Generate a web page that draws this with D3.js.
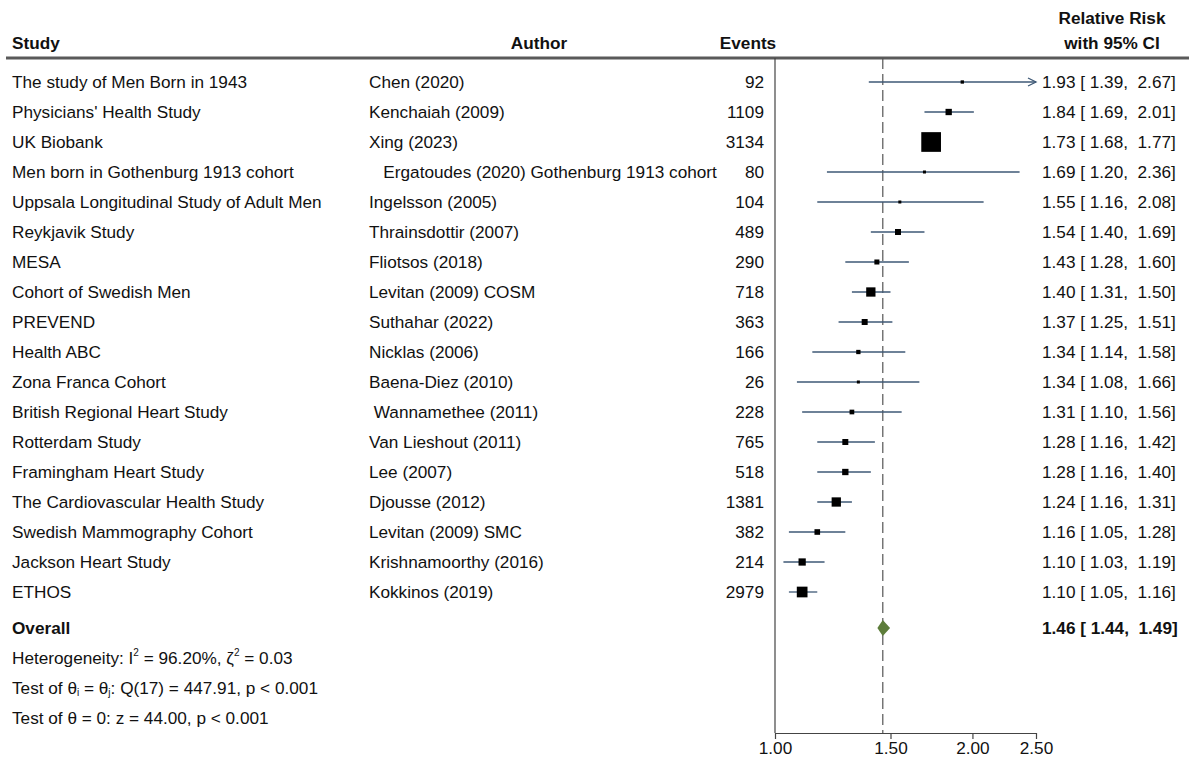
<!DOCTYPE html>
<html>
<head>
<meta charset="utf-8">
<script src="https://cdn.jsdelivr.net/npm/d3@7"></script>
<style>
  html, body { margin: 0; padding: 0; background: #fff; }
  svg { display: block; }
  text { font-family: "Liberation Sans", Arial, Helvetica, sans-serif; fill: #111; white-space: pre; }
</style>
</head>
<body>
<svg id="chart" width="1189" height="762"></svg>
<script>
// ---------------- DATA ----------------
const studies = [
  "The study of Men Born in 1943",
  "Physicians' Health Study",
  "UK Biobank",
  "Men born in Gothenburg 1913 cohort",
  "Uppsala Longitudinal Study of Adult Men",
  "Reykjavik Study",
  "MESA",
  "Cohort of Swedish Men",
  "PREVEND",
  "Health ABC",
  "Zona Franca Cohort",
  "British Regional Heart Study",
  "Rotterdam Study",
  "Framingham Heart Study",
  "The Cardiovascular Health Study",
  "Swedish Mammography Cohort",
  "Jackson Heart Study",
  "ETHOS"
];
const authors = [
  "Chen (2020)",
  "Kenchaiah (2009)",
  "Xing (2023)",
  "   Ergatoudes (2020) Gothenburg 1913 cohort",
  "Ingelsson (2005)",
  "Thrainsdottir (2007)",
  "Fliotsos (2018)",
  "Levitan (2009) COSM",
  "Suthahar (2022)",
  "Nicklas (2006)",
  "Baena-Diez (2010)",
  " Wannamethee (2011)",
  "Van Lieshout (2011)",
  "Lee (2007)",
  "Djousse (2012)",
  "Levitan (2009) SMC",
  "Krishnamoorthy (2016)",
  "Kokkinos (2019)"
];
const events = [92, 1109, 3134, 80, 104, 489, 290, 718, 363, 166, 26, 228, 765, 518, 1381, 382, 214, 2979];
const rr    = [1.93, 1.84, 1.73, 1.69, 1.55, 1.54, 1.43, 1.40, 1.37, 1.34, 1.34, 1.31, 1.28, 1.28, 1.24, 1.16, 1.10, 1.10];
const lower = [1.39, 1.69, 1.68, 1.20, 1.16, 1.40, 1.28, 1.31, 1.25, 1.14, 1.08, 1.10, 1.16, 1.16, 1.16, 1.05, 1.03, 1.05];
const upper = [2.67, 2.01, 1.77, 2.36, 2.08, 1.69, 1.60, 1.50, 1.51, 1.58, 1.66, 1.56, 1.42, 1.40, 1.31, 1.28, 1.19, 1.16];
const weights = [1.05, 3.8, 36.9, 0.86, 0.86, 3.4, 2.4, 8.2, 3.4, 1.76, 0.86, 2.1, 3.4, 3.8, 8.2, 3.0, 5.0, 10.9];
const overall = { label: "Overall", rr: 1.46, lower: 1.44, upper: 1.49 };
const xTicks = [1.00, 1.50, 2.00, 2.50];
const headers = { study: "Study", author: "Author", events: "Events", rr1: "Relative Risk", rr2: "with 95% CI" };

// ---------------- LAYOUT ----------------
const svg = d3.select("#chart");
const FS = 17.2;
const colStudy = 12, colAuthor = 369, colEvents = 764, colCI = 1042;
const plotL = 775, plotR = 1036;
const headerLineY = 58, axisY = 733;

const x = d3.scaleLog().domain([1, 2.5]).range([plotL, plotR]);
const y = d3.scalePoint().domain(d3.range(studies.length)).range([82, 592]);
const overallY = 628;
const statY = [658, 688, 718];
const boxSize = d3.scaleSqrt().domain([0, d3.max(weights)]).range([0, 19.7]);
const fmt = d3.format(".2f");

// header
const hdr = svg.append("g").style("font-size", FS + "px");
function hText(xx, yy, anchor, t) {
  hdr.append("text").attr("x", xx).attr("y", yy).attr("text-anchor", anchor)
    .attr("dominant-baseline", "central").style("font-weight", "bold").text(t);
}
hText(colStudy, 43, "start", headers.study);
hText(539, 43, "middle", headers.author);
hText(748, 43, "middle", headers.events);
hText(1112, 18, "middle", headers.rr1);
hText(1112, 43, "middle", headers.rr2);

svg.append("line").attr("x1", 6).attr("x2", 1189).attr("y1", headerLineY).attr("y2", headerLineY)
  .attr("stroke", "#5a5a5a").attr("stroke-width", 3);

// vertical axis line (null line at 1)
svg.append("line").attr("x1", x(1)).attr("x2", x(1)).attr("y1", headerLineY).attr("y2", axisY)
  .attr("stroke", "#444").attr("stroke-width", 1.2);
// overall dashed line
svg.append("line").attr("x1", x(overall.rr)).attr("x2", x(overall.rr)).attr("y1", headerLineY).attr("y2", axisY)
  .attr("stroke", "#555").attr("stroke-width", 1.2).attr("stroke-dasharray", "11,5");

// rows text
const rows = svg.append("g").style("font-size", FS + "px");
studies.forEach((s, i) => {
  const yy = y(i);
  rows.append("text").attr("x", colStudy).attr("y", yy).attr("dominant-baseline", "central").text(s);
  rows.append("text").attr("x", colAuthor).attr("y", yy).attr("dominant-baseline", "central").text(authors[i]);
  rows.append("text").attr("x", colEvents).attr("y", yy).attr("text-anchor", "end").attr("dominant-baseline", "central").text(events[i]);
  rows.append("text").attr("x", colCI).attr("y", yy).attr("dominant-baseline", "central")
    .text(`${fmt(rr[i])} [ ${fmt(lower[i])},  ${fmt(upper[i])}]`);
});

// CI lines and boxes
const marks = svg.append("g");
studies.forEach((s, i) => {
  const yy = y(i);
  const lo = Math.max(lower[i], 1), hi = Math.min(upper[i], 2.5);
  marks.append("line").attr("x1", x(lo)).attr("x2", x(hi)).attr("y1", yy).attr("y2", yy)
    .attr("stroke", "#3e5876").attr("stroke-width", 1.3);
  if (upper[i] > 2.5) {
    const ax = x(2.5);
    marks.append("path").attr("d", `M${ax - 8},${yy - 4}L${ax},${yy}L${ax - 8},${yy + 4}`)
      .attr("fill", "none").attr("stroke", "#3e5876").attr("stroke-width", 1.3);
  }
  const b = Math.max(boxSize(weights[i]), 3);
  marks.append("rect").attr("x", x(rr[i]) - b / 2).attr("y", yy - b / 2).attr("width", b).attr("height", b).attr("fill", "#000");
});

// overall
svg.append("text").attr("x", colStudy).attr("y", overallY).attr("dominant-baseline", "central")
  .style("font-size", FS + "px").style("font-weight", "bold").text(overall.label);
svg.append("text").attr("x", colCI).attr("y", overallY).attr("dominant-baseline", "central")
  .style("font-size", FS + "px").style("font-weight", "bold")
  .text(`${fmt(overall.rr)} [ ${fmt(overall.lower)},  ${fmt(overall.upper)}]`);
svg.append("path")
  .attr("d", `M${x(overall.lower) - 1.5},${overallY}L${x(overall.rr)},${overallY - 8}L${x(overall.upper) + 1.5},${overallY}L${x(overall.rr)},${overallY + 8}Z`)
  .attr("fill", "#5d7d3a");

// statistics text
const st = svg.append("g").style("font-size", FS + "px");
const t1 = st.append("text").attr("x", colStudy).attr("y", statY[0]).attr("dominant-baseline", "central");
t1.append("tspan").text("Heterogeneity: I");
t1.append("tspan").attr("dy", -6).style("font-size", "10px").text("2");
t1.append("tspan").attr("dy", 6).text(" = 96.20%, ζ");
t1.append("tspan").attr("dy", -6).style("font-size", "10px").text("2");
t1.append("tspan").attr("dy", 6).text(" = 0.03");

const t2 = st.append("text").attr("x", colStudy).attr("y", statY[1]).attr("dominant-baseline", "central");
t2.append("tspan").text("Test of θ");
t2.append("tspan").attr("dy", 4).style("font-size", "10px").text("i");
t2.append("tspan").attr("dy", -4).text(" = θ");
t2.append("tspan").attr("dy", 4).style("font-size", "10px").text("j");
t2.append("tspan").attr("dy", -4).text(": Q(17) = 447.91, p < 0.001");

st.append("text").attr("x", colStudy).attr("y", statY[2]).attr("dominant-baseline", "central")
  .text("Test of θ = 0: z = 44.00, p < 0.001");

// x axis
const axis = svg.append("g").attr("transform", `translate(0,${axisY})`)
  .call(d3.axisBottom(x).tickValues(xTicks).tickFormat(fmt).tickSize(6).tickSizeOuter(0));
axis.select(".domain").attr("stroke", "#444").attr("stroke-width", 1.2);
axis.selectAll(".tick line").attr("stroke", "#444").attr("stroke-width", 1.2);
axis.selectAll(".tick text").style("font-size", FS + "px").style("font-family", '"Liberation Sans", Arial, sans-serif').attr("fill", "#111").attr("y", 9);
</script>
</body>
</html>
